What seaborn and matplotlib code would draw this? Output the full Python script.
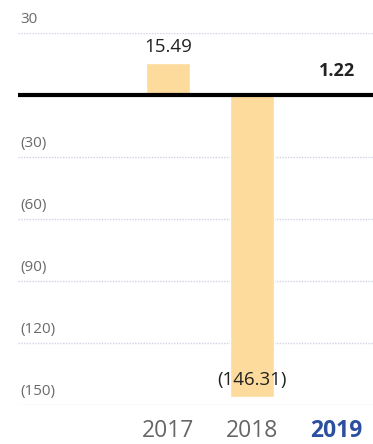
import matplotlib
matplotlib.use("Agg")
import matplotlib.pyplot as plt
import seaborn as sns
import pandas as pd

years = ["2017", "2018", "2019"]
values = [15.49, -146.31, 1.22]
labels = ["15.49", "(146.31)", "1.22"]
bar_colors = ["#fddb9c", "#fddb9c", "#9ba3d3"]
yticks = [30, 0, -30, -60, -90, -120, -150]
ytick_labels = ["30", "", "(30)", "(60)", "(90)", "(120)", "(150)"]

sns.set_theme(style="white")
plt.rcParams['font.family'] = ['Open Sans', 'DejaVu Sans']

df = pd.DataFrame({"year": years, "value": values})

fig = plt.figure(figsize=(3.73, 4.44), dpi=100)
ax = fig.add_axes([18/373, 39/444, 1 - 18/373, (405-33)/444])

sns.barplot(data=df, x="year", y="value", hue="year", palette=bar_colors,
            width=0.52, legend=False, ax=ax, saturation=1, zorder=2)

ax.set_xlim(-1.78, 2.43)
ax.set_ylim(-150, 30)

for s in ax.spines.values():
    s.set_visible(False)

# gridlines
for t in yticks:
    if t == 0:
        continue
    ax.axhline(t, color="#cfd3e8", lw=1.0, ls=(0, (1, 1)), zorder=1)
ax.axhline(0, color="black", lw=3, zorder=3)

ax.set_yticks([])
for t, lab in zip(yticks, ytick_labels):
    if lab:
        ax.annotate(lab, xy=(0, t), xycoords=("axes fraction", "data"),
                    xytext=(1.5, 4), textcoords="offset points",
                    ha="left", va="bottom", fontsize=11, color="#6a6a6a")

ax.set_xlabel("")
ax.set_ylabel("")
ax.set_xticks(range(len(years)))
ax.set_xticklabels(years, fontsize=16.5, color="#666666")
ax.tick_params(axis="x", length=0, pad=10)
tl = ax.get_xticklabels()
tl[-1].set_fontweight("bold")
tl[-1].set_color("#2d4f9f")

# value labels
ax.annotate(labels[0], xy=(0, values[0]), xytext=(0, 5), textcoords="offset points",
            ha="center", va="bottom", fontsize=13.5, color="#222222")
ax.annotate(labels[1], xy=(1, values[1]), xytext=(0, 6), textcoords="offset points",
            ha="center", va="bottom", fontsize=13.5, color="#222222")
ax.annotate(labels[2], xy=(2, values[2]), xytext=(0, 9), textcoords="offset points",
            ha="center", va="bottom", fontsize=13, fontweight="bold", color="#222222")

fig.savefig("out.png", dpi=100)
